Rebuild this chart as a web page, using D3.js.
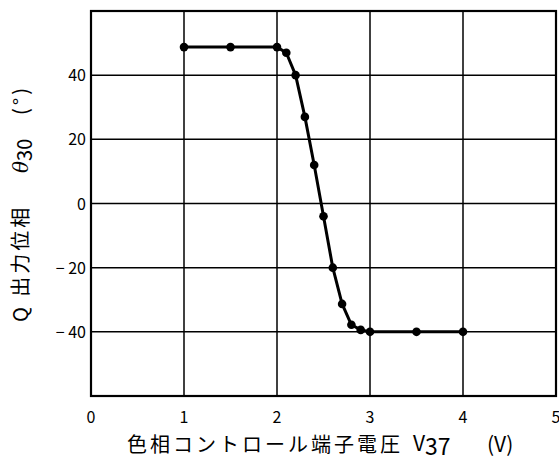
<!DOCTYPE html>
<html>
<head>
<meta charset="utf-8">
<script src="https://cdn.jsdelivr.net/npm/d3@7"></script>
<style>
  body { margin: 0; background: #fff; }
  text { font-family: "Noto Sans CJK JP", "Noto Sans", sans-serif; fill: #000; }
</style>
</head>
<body>
<div id="chart"></div>
<script>
// data
var voltage = [1, 1.5, 2, 2.1, 2.2, 2.3, 2.4, 2.5, 2.6, 2.7, 2.8, 2.9, 3, 3.5, 4];
var phase = [48.75, 48.75, 48.75, 47, 40, 27, 12, -4, -20, -31.3, -37.8, -39.4, -40, -40, -40];
var xTicks = [0, 1, 2, 3, 4, 5];
var yTicks = [-40, -20, 0, 20, 40];

var width = 559, height = 465;
var margin = { left: 91, right: 3, top: 11, bottom: 69 };

var svg = d3.select("#chart").append("svg")
    .attr("width", width)
    .attr("height", height);

var x = d3.scaleLinear().domain([0, 5]).range([margin.left, width - margin.right]);
var y = d3.scaleLinear().domain([-60, 60]).range([height - margin.bottom, margin.top]);

// grid
svg.append("g").selectAll("line")
    .data(xTicks.filter(function (d) { return d > 0 && d < 5; }))
    .enter().append("line")
    .attr("x1", function (d) { return x(d); }).attr("x2", function (d) { return x(d); })
    .attr("y1", y(60)).attr("y2", y(-60))
    .attr("stroke", "#000").attr("stroke-width", 1.5);

svg.append("g").selectAll("line")
    .data(yTicks)
    .enter().append("line")
    .attr("x1", x(0)).attr("x2", x(5))
    .attr("y1", function (d) { return y(d); }).attr("y2", function (d) { return y(d); })
    .attr("stroke", "#000").attr("stroke-width", 1.5);

// frame
svg.append("rect")
    .attr("x", x(0)).attr("y", y(60))
    .attr("width", x(5) - x(0)).attr("height", y(-60) - y(60))
    .attr("fill", "none").attr("stroke", "#000").attr("stroke-width", 2.2);

// tick labels
svg.append("g").selectAll("text")
    .data(xTicks)
    .enter().append("text")
    .attr("x", function (d) { return x(d); })
    .attr("y", y(-60) + 27)
    .attr("text-anchor", "middle")
    .style("font-size", "16px")
    .text(function (d) { return d; });

svg.append("g").selectAll("text")
    .data(yTicks)
    .enter().append("text")
    .attr("x", x(0) - 5)
    .attr("y", function (d) { return y(d) + 6; })
    .attr("text-anchor", "end")
    .style("font-size", "16px")
    .text(function (d) { return d < 0 ? "\u2212 " + Math.abs(d) : d; });

// curve
var pts = voltage.map(function (v, i) { return [v, phase[i]]; });
var line = d3.line()
    .x(function (d) { return x(d[0]); })
    .y(function (d) { return y(d[1]); });

svg.append("path")
    .datum(pts)
    .attr("d", line)
    .attr("fill", "none")
    .attr("stroke", "#000")
    .attr("stroke-width", 3)
    .attr("stroke-linejoin", "round");

svg.append("g").selectAll("circle")
    .data(pts)
    .enter().append("circle")
    .attr("cx", function (d) { return x(d[0]); })
    .attr("cy", function (d) { return y(d[1]); })
    .attr("r", 4.3)
    .attr("fill", "#000");

// x axis title
svg.append("text")
    .attr("x", 127).attr("y", 452)
    .style("font-size", "20px")
    .style("letter-spacing", "3px")
    .text("色相コントロール端子電圧");
var xv = svg.append("text")
    .attr("x", 413).attr("y", 451)
    .style("font-size", "21px");
xv.append("tspan").text("V");
xv.append("tspan").attr("dy", 4).style("font-size", "23px").text("37");
svg.append("text")
    .attr("x", 487).attr("y", 452)
    .style("font-size", "21px")
    .text("(V)");

// y axis title
svg.append("text")
    .attr("transform", "translate(28,322) rotate(-90)")
    .style("font-size", "20px")
    .style("letter-spacing", "3px")
    .text("Q 出力位相");
var yth = svg.append("text")
    .attr("transform", "translate(28,173) rotate(-90)")
    .style("font-size", "20px");
yth.append("tspan").style("font-style", "italic").style("font-family", "DejaVu Serif").text("θ");
yth.append("tspan").attr("dy", 4).text("30");
svg.append("text")
    .attr("transform", "translate(28,115) rotate(-90)")
    .style("font-size", "20px")
    .style("letter-spacing", "3px")
    .text("(°)");
</script>
</body>
</html>
